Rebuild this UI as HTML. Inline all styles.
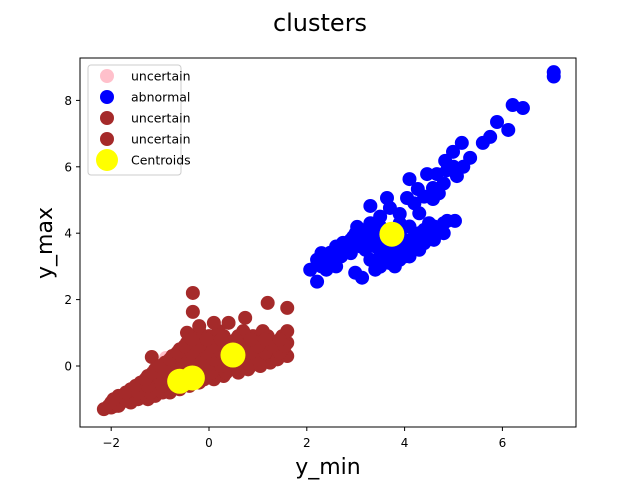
<!DOCTYPE html>
<html><head><meta charset="utf-8"><style>
body{margin:0;background:#fff;font-family:"Liberation Sans","DejaVu Sans",sans-serif}
</style></head><body>
<svg id="chart" width="640" height="480" xmlns="http://www.w3.org/2000/svg">
<text x="320" y="31" font-size="24" text-anchor="middle" font-family="DejaVu Sans,sans-serif">clusters</text>
<g id="marks"></g>
<rect x="80" y="58" width="496" height="369" fill="none" stroke="#000" stroke-width="1"/>
<g id="axes" font-family="DejaVu Sans,sans-serif" font-size="12"></g>
<text x="328" y="474" font-size="22" text-anchor="middle" font-family="DejaVu Sans,sans-serif">y_min</text>
<text x="52" y="243" font-size="22" text-anchor="middle" font-family="DejaVu Sans,sans-serif" transform="rotate(-90 52 243)">y_max</text>
<g id="legend" font-family="DejaVu Sans,sans-serif" font-size="12.5"></g>
</svg>
<script>
const xTicks=[-2,0,2,4,6];
const yTicks=[0,2,4,6,8];
const brownPts=[[-2.15,-1.3],[-2.0,-1.25],[-2.0,-1.1],[-1.8,-1.1],[-1.6,-1.1],[-1.85,-0.9],[-1.6,-0.9],[-1.35,-0.9],[-1.1,-0.9],
[-1.6,-0.7],[-1.35,-0.7],[-1.1,-0.7],[-0.85,-0.7],[-0.6,-0.7],[-1.4,-0.5],[-1.1,-0.5],[-0.8,-0.5],[-0.5,-0.5],[-0.2,-0.5],
[-1.25,-0.3],[-0.95,-0.3],[-0.65,-0.3],[-0.35,-0.3],[-0.05,-0.3],[0.3,-0.3],
[-1.1,-0.1],[-0.8,-0.1],[-0.5,-0.1],[-0.2,-0.1],[0.1,-0.1],[0.4,-0.1],[0.8,-0.1],
[-0.9,0.1],[-0.6,0.1],[-0.3,0.1],[0,0.1],[0.3,0.1],[0.6,0.1],[0.9,0.1],[1.25,0.1],
[-0.75,0.3],[-0.45,0.3],[-0.15,0.3],[0.15,0.3],[0.45,0.3],[0.75,0.3],[1.05,0.3],[1.35,0.3],[1.6,0.3],
[-0.6,0.5],[-0.3,0.5],[0,0.5],[0.3,0.5],[0.6,0.5],[0.9,0.5],[1.2,0.5],[1.5,0.5],
[-0.45,0.7],[-0.15,0.7],[0.15,0.7],[0.45,0.7],[0.75,0.7],[1.05,0.7],[1.35,0.7],[1.6,0.7],
[-0.3,0.9],[0,0.9],[0.3,0.9],[0.6,0.9],[0.9,0.9],[1.2,0.9],[1.5,0.9],
[-0.2,1.05],[0.2,1.05],[0.7,1.05],[1.1,1.05],[1.6,1.05],
[-0.33,2.2],[-0.33,1.63],[-0.2,1.2],[0.1,1.3],[0.4,1.3],[0.74,1.45],[1.2,1.9],[1.6,1.75],[-1.17,0.27],[-0.45,1.0],[-1.9,-1.2],[-1.5,-1.0],
[-2.05,-1.2],[-1.85,-1.2],[-1.95,-1.0],[-1.7,-1.0],[-1.45,-1.0],[-1.25,-1.0],
[-1.7,-0.8],[-1.45,-0.8],[-1.2,-0.8],[-0.95,-0.8],[-0.8,-0.8],
[-1.5,-0.6],[-1.25,-0.6],[-0.95,-0.6],[-0.65,-0.6],[-0.4,-0.6],
[-1.3,-0.4],[-1.0,-0.4],[-0.7,-0.4],[-0.4,-0.4],[-0.1,-0.4],[0.1,-0.4],
[-1.15,-0.2],[-0.85,-0.2],[-0.55,-0.2],[-0.25,-0.2],[0.05,-0.2],[0.35,-0.2],[0.6,-0.2],
[-1.0,0],[-0.65,0],[-0.35,0],[-0.05,0],[0.25,0],[0.55,0],[0.85,0],[1.05,0],
[-0.8,0.2],[-0.5,0.2],[-0.2,0.2],[0.1,0.2],[0.4,0.2],[0.7,0.2],[1.0,0.2],[1.4,0.2],
[-0.65,0.4],[-0.35,0.4],[-0.05,0.4],[0.25,0.4],[0.55,0.4],[0.85,0.4],[1.15,0.4],[1.45,0.4],
[-0.5,0.6],[-0.2,0.6],[0.1,0.6],[0.4,0.6],[0.7,0.6],[1.0,0.6],[1.3,0.6],[1.55,0.6],
[-0.35,0.8],[-0.05,0.8],[0.25,0.8],[0.55,0.8],[0.85,0.8],[1.15,0.8],[1.45,0.8]];
const pinkPts=[[-0.88,0.24]];
const bluePts=[[2.3,3.4],[2.6,3.6],[2.9,3.8],[3.1,4.0],[3.3,4.3],[3.3,4.82],[3.5,4.5],[3.64,5.06],[3.7,4.76],[3.9,4.58],[4.05,5.06],[4.1,5.63],[4.27,5.33],[4.46,5.78],[4.58,5.36],[4.58,5.03],[4.66,5.78],[4.83,6.18],[4.87,5.9],[4.99,6.45],[5.07,5.72],[5.17,6.72],[5.34,6.27],[5.6,6.72],[5.75,6.9],[5.89,7.35],[6.12,7.11],[6.21,7.86],[6.42,7.77],[7.05,8.72],[7.05,8.85],[4.2,4.9],[4.4,5.1],[4.8,5.5],[5.0,6.0],[3.5,4.2],[3.2,4.1],
[2.07,2.9],[2.21,3.2],[2.21,2.54],[2.48,3.41],[2.74,3.71],[2.95,3.89],[3.03,4.19],[2.3,3.0],[2.5,3.1],[2.7,3.3],[2.9,3.4],[3.1,3.6],[2.99,2.81],[3.13,2.66],[3.5,2.99],[3.3,3.2],[3.5,3.3],[3.7,3.1],[3.9,3.2],[3.4,3.6],[3.6,3.5],[3.8,3.4],[3.8,3.7],[4.0,3.5],[4.0,3.8],[4.2,3.6],[4.2,3.9],[4.4,3.7],[4.4,4.1],[4.6,3.8],[4.6,4.2],[4.8,4.0],[4.8,4.3],[4.87,4.37],[5.03,4.37],[4.5,4.3],[3.6,3.8],[3.2,3.9],[4.1,3.3],[3.4,2.9],
[2.4,3.2],[2.6,3.4],[2.8,3.55],[3.0,3.7],[3.2,3.5],[3.3,3.8],[3.5,3.9],[3.7,4.1],[3.9,4.0],[4.1,4.2],[4.3,4.0],[4.5,3.9],[4.7,4.1],[3.6,3.2],[3.8,3.0],[4.0,3.3],[4.3,3.5],[3.4,4.0],[3.0,4.0],[2.6,3.0],[2.4,2.9],[3.9,4.3],[4.3,4.6],[4.7,5.2],[5.2,6.0],[4.9,6.0]];
const centroids=[[-0.6,-0.46],[-0.34,-0.36],[0.49,0.33],[3.74,3.97]];
const legendLabels=["uncertain","abnormal","uncertain","uncertain","Centroids"];
const legendColors=["pink","#0000ff","#a52a2a","#a52a2a","#ffff00"];

const NS="http://www.w3.org/2000/svg";
function sx(v){return 209+v*48.9;}
function sy(v){return 366-v*33.2;}
const marks=document.getElementById('marks');
function dot(p,r,fill,name){
  const c=document.createElementNS(NS,'circle');
  c.setAttribute('cx',sx(p[0]));c.setAttribute('cy',sy(p[1]));c.setAttribute('r',r);c.setAttribute('fill',fill);
  
  
  marks.appendChild(c);
}
pinkPts.forEach(p=>dot(p,7,'pink','uncertain-point'));
bluePts.forEach(p=>dot(p,7,'#0000ff','abnormal-point'));
brownPts.forEach(p=>dot(p,7,'#a52a2a','uncertain-point'));
centroids.forEach(p=>dot(p,12.5,'#ffff00','centroid'));

const axes=document.getElementById('axes');
xTicks.forEach(t=>{
  const l=document.createElementNS(NS,'line');
  l.setAttribute('x1',sx(t));l.setAttribute('x2',sx(t));l.setAttribute('y1',427);l.setAttribute('y2',431);l.setAttribute('stroke','#000');
  
  
  axes.appendChild(l);
  const tx=document.createElementNS(NS,'text');
  tx.setAttribute('x',sx(t));tx.setAttribute('y',447);tx.setAttribute('text-anchor','middle');
  tx.textContent=t<0?'\u2212'+Math.abs(t):t;
  
  
  axes.appendChild(tx);
});
yTicks.forEach(t=>{
  const l=document.createElementNS(NS,'line');
  l.setAttribute('x1',76);l.setAttribute('x2',80);l.setAttribute('y1',sy(t));l.setAttribute('y2',sy(t));l.setAttribute('stroke','#000');
  
  
  axes.appendChild(l);
  const tx=document.createElementNS(NS,'text');
  tx.setAttribute('x',72);tx.setAttribute('y',sy(t)+4.5);tx.setAttribute('text-anchor','end');
  tx.textContent=t;
  
  
  axes.appendChild(tx);
});

const lg=document.getElementById('legend');
const box=document.createElementNS(NS,'rect');
box.setAttribute('x',88);box.setAttribute('y',65);box.setAttribute('width',93);box.setAttribute('height',110);box.setAttribute('rx',3);
box.setAttribute('fill','#fff');box.setAttribute('fill-opacity','0.8');box.setAttribute('stroke','#ccc');


lg.appendChild(box);
legendLabels.forEach((lab,i)=>{
  const y=76+i*21;
  const c=document.createElementNS(NS,'circle');
  c.setAttribute('cx',107);c.setAttribute('cy',y);c.setAttribute('r',i===4?11:7);c.setAttribute('fill',legendColors[i]);
  
  
  lg.appendChild(c);
  const t=document.createElementNS(NS,'text');
  t.setAttribute('x',131);t.setAttribute('y',y+4.5);t.textContent=lab;
  
  
  lg.appendChild(t);
});
</script>
</body></html>
